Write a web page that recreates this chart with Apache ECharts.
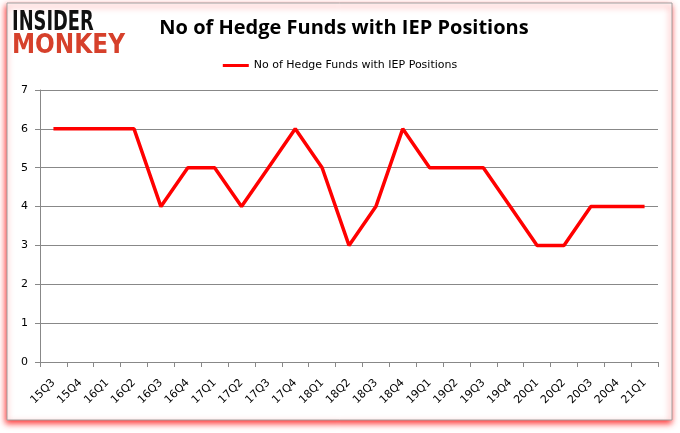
<!DOCTYPE html>
<html><head><meta charset="utf-8">
<script src="https://cdn.jsdelivr.net/npm/echarts@6/dist/echarts.min.js"></script>
<style>html,body{margin:0;padding:0;background:#fff}#c{width:680px;height:433px}</style>
</head><body><div id="c"></div>
<script>
const categories = ['15Q3','15Q4','16Q1','16Q2','16Q3','16Q4','17Q1','17Q2','17Q3','17Q4','18Q1','18Q2','18Q3','18Q4','19Q1','19Q2','19Q3','19Q4','20Q1','20Q2','20Q3','20Q4','21Q1'];
const values = [6,6,6,6,4,5,5,4,5,6,5,3,4,6,5,5,5,4,3,3,4,4,4];
const seriesName = 'No of Hedge Funds with IEP Positions';
const titleText = 'No of Hedge Funds with IEP Positions';

const chart = echarts.init(document.getElementById('c'));
chart.setOption({
  animation: false,
  backgroundColor: '#fff',
  graphic: [
    {type:'rect', shape:{x:7,y:3,width:665,height:417}, style:{fill:'#fff', stroke:'#a0a0a0', lineWidth:1, shadowColor:'rgba(255,0,0,0.8)', shadowBlur:6, shadowOffsetX:-1, shadowOffsetY:3}, z:-10},
    {type:'text', x:12, y:9, scaleX:0.66, scaleY:1, style:{text:'INSIDER', font:'900 27px "DejaVu Sans"', fill:'#111', textVerticalAlign:'top'}},
    {type:'text', x:12, y:32, scaleX:0.86, scaleY:1, style:{text:'MONKEY', font:'900 27px "DejaVu Sans"', fill:'#d6402b', textVerticalAlign:'top'}}
  ],
  title: {text: titleText, left: 339, top: 13, textAlign:'center', textStyle:{fontFamily:'"Open Sans"', fontWeight:'bold', fontSize:20, color:'#000'}},
  legend: {top: 55, left: 'center', itemWidth: 26, itemHeight: 3, icon:'rect', textStyle:{fontFamily:'"DejaVu Sans"', fontSize:11, color:'#000'}, data:[seriesName]},
  grid: {left: 40, right: 22, top: 90, bottom: 71},
  xAxis: {type:'category', data: categories, boundaryGap:true,
    axisLine:{lineStyle:{color:'#888'}}, axisTick:{show:true, interval:0, lineStyle:{color:'#888'}},
    axisLabel:{interval:0, rotate:45, fontFamily:'"DejaVu Sans"', fontSize:11, color:'#000', margin:19}},
  yAxis: {type:'value', min:0, max:7, interval:1,
    axisLine:{show:true, lineStyle:{color:'#888'}}, axisTick:{show:true, lineStyle:{color:'#888'}},
    splitLine:{lineStyle:{color:'#888'}},
    axisLabel:{fontFamily:'"DejaVu Sans"', fontSize:11, color:'#000', margin:12}},
  series: [{name: seriesName, type:'line', data: values, symbol:'none', lineStyle:{color:'#ff0000', width:3.5}, itemStyle:{color:'#ff0000'}}]
});
</script></body></html>
